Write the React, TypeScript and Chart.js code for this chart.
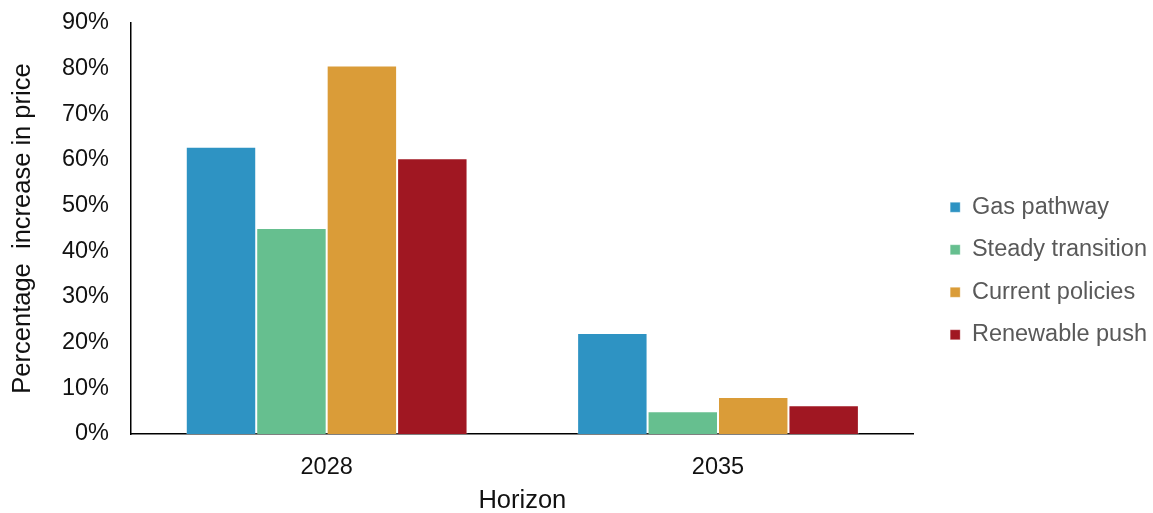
import React, { useEffect, useRef } from "react";
import { Chart, registerables } from "chart.js";

Chart.register(...registerables);

const categories = ["2028", "2035"];
const seriesNames = ["Gas pathway", "Steady transition", "Current policies", "Renewable push"];
const gasPathway = [62.9, 22.1];
const steadyTransition = [45.1, 5.0];
const currentPolicies = [80.7, 8.1];
const renewablePush = [60.4, 6.3];
const seriesColors = ["#2E93C3", "#66BF8F", "#DA9C38", "#A01722"];
const yTicks = [0, 10, 20, 30, 40, 50, 60, 70, 80, 90];

const FONT = "'Liberation Sans', Arial, sans-serif";

export default function App() {
  const ref = useRef<HTMLCanvasElement | null>(null);
  useEffect(() => {
    if (!ref.current) return;
    const values = [gasPathway, steadyTransition, currentPolicies, renewablePush];
    const chart = new Chart(ref.current, {
      type: "bar",
      data: {
        labels: categories,
        datasets: seriesNames.map((name, i) => ({
          label: name,
          data: values[i],
          backgroundColor: seriesColors[i],
          borderColor: "rgba(255,255,255,0.3)",
          borderWidth: 1,
          barPercentage: 1,
          categoryPercentage: 0.72,
        })),
      },
      options: {
        animation: false,
        responsive: false,
        maintainAspectRatio: false,
        layout: { padding: { top: 23, right: -4, bottom: 0, left: 0 } },
        plugins: {
          legend: {
            position: "right",
            align: "center",
            maxWidth: 300,
            title: {
              display: true,
              text: " ",
              padding: 0,
              font: { family: FONT, size: 5 },
            },
            labels: {
              boxWidth: 10,
              boxHeight: 10,
              padding: 19,
              color: "#595959",
              font: { family: FONT, size: 23.5 },
            },
          },
          tooltip: { enabled: false },
        },
        scales: {
          x: {
            grid: { display: false, drawTicks: false },
            border: { display: true, color: "#000", width: 1.5 },
            ticks: {
              color: "#111",
              padding: 19,
              font: { family: FONT, size: 23.5 },
            },
            title: {
              display: true,
              text: "Horizon",
              color: "#111",
              padding: { top: 0, bottom: -3 },
              font: { family: FONT, size: 25.5 },
            },
            afterFit: (s: any) => {
              s.height = 79;
            },
          },
          y: {
            min: 0,
            max: 90,
            afterBuildTicks: (axis: any) => {
              axis.ticks = yTicks.map((v) => ({ value: v }));
            },
            grid: { display: false, drawTicks: false },
            border: { display: true, color: "#000", width: 1.5 },
            ticks: {
              color: "#111",
              padding: 22,
              callback: (v: any) => `${v}%`,
              font: { family: FONT, size: 23.5 },
            },
            title: {
              display: true,
              text: "Percentage  increase in price",
              color: "#111",
              padding: { top: 7.5, bottom: 0 },
              font: { family: FONT, size: 25.5 },
            },
            afterFit: (s: any) => {
              s.width = 131;
              s.paddingTop = 0;
              s.paddingBottom = 0;
            },
          },
          spacer: {
            type: "linear",
            position: "right",
            display: true,
            grid: { display: false, drawTicks: false },
            border: { display: false },
            ticks: { display: false },
            afterFit: (s: any) => {
              s.width = 17.5;
              s.paddingTop = 0;
              s.paddingBottom = 0;
            },
          },
        },
      },
    });
    return () => chart.destroy();
  }, []);
  return (
    <div style={{ position: "fixed", left: 0, top: 0, width: 1153, height: 513, background: "#fff" }}>
      <canvas ref={ref} width={1153} height={513} style={{ width: 1153, height: 513 }} />
    </div>
  );
}
